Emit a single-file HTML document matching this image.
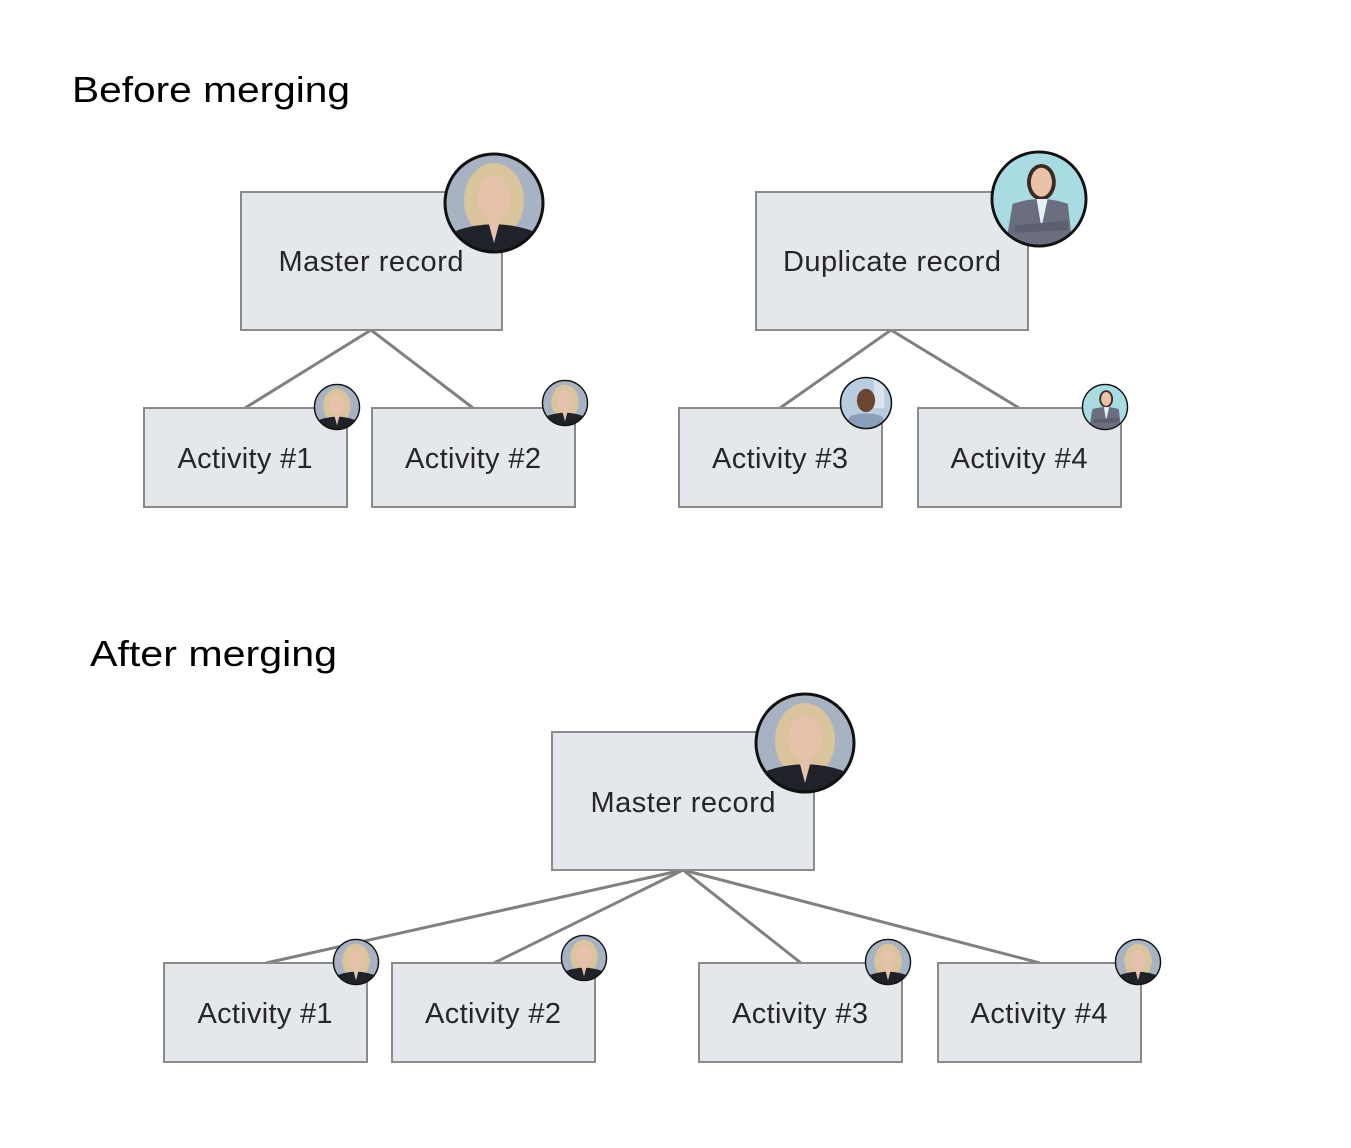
<!DOCTYPE html>
<html><head><meta charset="utf-8"><style>
html,body{margin:0;padding:0;background:#fff;}
svg{display:block;}
text{font-family:"Liberation Sans","DejaVu Sans",sans-serif;}
</style></head><body>
<svg width="1351" height="1148" viewBox="0 0 1351 1148" xmlns="http://www.w3.org/2000/svg">
<defs>
<clipPath id="cc"><circle cx="0" cy="0" r="1"/></clipPath>
<symbol id="wa" viewBox="-1 -1 2 2" overflow="visible">
<g clip-path="url(#cc)">
<rect x="-1" y="-1" width="2" height="2" fill="#a7b2c2"/>
<ellipse cx="0" cy="-0.05" rx="0.6" ry="0.75" fill="#d9c49c"/>
<path d="M-0.9 1 L-0.75 0.55 Q0 0.3 0.75 0.55 L0.9 1Z" fill="#1f2229"/>
<ellipse cx="0" cy="-0.1" rx="0.33" ry="0.45" fill="#e6c2ac"/>
<path d="M-0.12 0.35 L0 0.8 L0.12 0.35Z" fill="#e6c2ac"/>
</g>
<circle cx="0" cy="0" r="0.98" fill="none" stroke="#111" stroke-width="0.06"/>
</symbol>
<symbol id="wb" viewBox="-1 -1 2 2" overflow="visible">
<g clip-path="url(#cc)">
<rect x="-1" y="-1" width="2" height="2" fill="#a9dbe3"/>
<ellipse cx="0.05" cy="-0.35" rx="0.3" ry="0.38" fill="#3b2a22"/>
<ellipse cx="0.05" cy="-0.35" rx="0.22" ry="0.3" fill="#e8c3a8"/>
<path d="M-0.7 1 L-0.55 0.1 Q0.05 -0.1 0.6 0.1 L0.7 1Z" fill="#6a6e7e"/>
<path d="M-0.05 0 L0.05 0.6 L0.18 0Z" fill="#e4f2f6"/>
<path d="M-0.5 0.55 L0.6 0.45 L0.6 0.65 L-0.5 0.7Z" fill="#5b5f70"/>
</g>
<circle cx="0" cy="0" r="0.98" fill="none" stroke="#111" stroke-width="0.06"/>
</symbol>
<symbol id="mc" viewBox="-1 -1 2 2" overflow="visible">
<g clip-path="url(#cc)">
<rect x="-1" y="-1" width="2" height="2" fill="#b8cde0"/>
<rect x="0.3" y="-1" width="0.4" height="1.2" fill="#d8e4ee"/>
<ellipse cx="0" cy="-0.1" rx="0.35" ry="0.45" fill="#6b4630"/>
<path d="M-0.9 1 L-0.6 0.5 Q0 0.3 0.6 0.5 L0.9 1Z" fill="#8aa0b8"/>
</g>
<circle cx="0" cy="0" r="0.98" fill="none" stroke="#111" stroke-width="0.06"/>
</symbol>
</defs>

<text x="72" y="102" font-size="36" fill="#000" textLength="278" lengthAdjust="spacingAndGlyphs">Before merging</text>
<text x="90" y="666" font-size="36" fill="#000" textLength="247" lengthAdjust="spacingAndGlyphs">After merging</text>

<g stroke="#808080" stroke-width="3" fill="none">
<line x1="371" y1="330" x2="245" y2="408"/>
<line x1="371" y1="330" x2="473" y2="408"/>
<line x1="891" y1="330" x2="780" y2="408"/>
<line x1="891" y1="330" x2="1019" y2="408"/>
<line x1="683" y1="870" x2="266" y2="963"/>
<line x1="683" y1="870" x2="494" y2="963"/>
<line x1="683" y1="870" x2="801" y2="963"/>
<line x1="683" y1="870" x2="1040" y2="963"/>
</g>

<g fill="#e4e7eb" stroke="#8a8a8a" stroke-width="2">
<rect x="241" y="192" width="261" height="138"/>
<rect x="756" y="192" width="272" height="138"/>
<rect x="144" y="408" width="203" height="99"/>
<rect x="372" y="408" width="203" height="99"/>
<rect x="679" y="408" width="203" height="99"/>
<rect x="918" y="408" width="203" height="99"/>
<rect x="552" y="732" width="262" height="138"/>
<rect x="164" y="963" width="203" height="99"/>
<rect x="392" y="963" width="203" height="99"/>
<rect x="699" y="963" width="203" height="99"/>
<rect x="938" y="963" width="203" height="99"/>
</g>

<g font-size="29" fill="#262626" text-anchor="middle" lengthAdjust="spacingAndGlyphs">
<text x="371" y="271" textLength="185">Master record</text>
<text x="892" y="271" textLength="218">Duplicate record</text>
<text x="245" y="468" textLength="135">Activity #1</text>
<text x="473" y="468" textLength="136">Activity #2</text>
<text x="780" y="468" textLength="136">Activity #3</text>
<text x="1019" y="468" textLength="137">Activity #4</text>
<text x="683" y="812" textLength="185">Master record</text>
<text x="265" y="1023" textLength="135">Activity #1</text>
<text x="493" y="1023" textLength="136">Activity #2</text>
<text x="800" y="1023" textLength="136">Activity #3</text>
<text x="1039" y="1023" textLength="137">Activity #4</text>
</g>

<use href="#wa" x="444" y="153" width="100" height="100"/>
<use href="#wb" x="991" y="151" width="96" height="96"/>
<use href="#wa" x="314" y="384" width="46" height="46"/>
<use href="#wa" x="542" y="380" width="46" height="46"/>
<use href="#mc" x="840" y="377" width="52" height="52"/>
<use href="#wb" x="1082" y="384" width="46" height="46"/>
<use href="#wa" x="755" y="693" width="100" height="100"/>
<use href="#wa" x="333" y="939" width="46" height="46"/>
<use href="#wa" x="561" y="935" width="46" height="46"/>
<use href="#wa" x="865" y="939" width="46" height="46"/>
<use href="#wa" x="1115" y="939" width="46" height="46"/>
</svg>
</body></html>
